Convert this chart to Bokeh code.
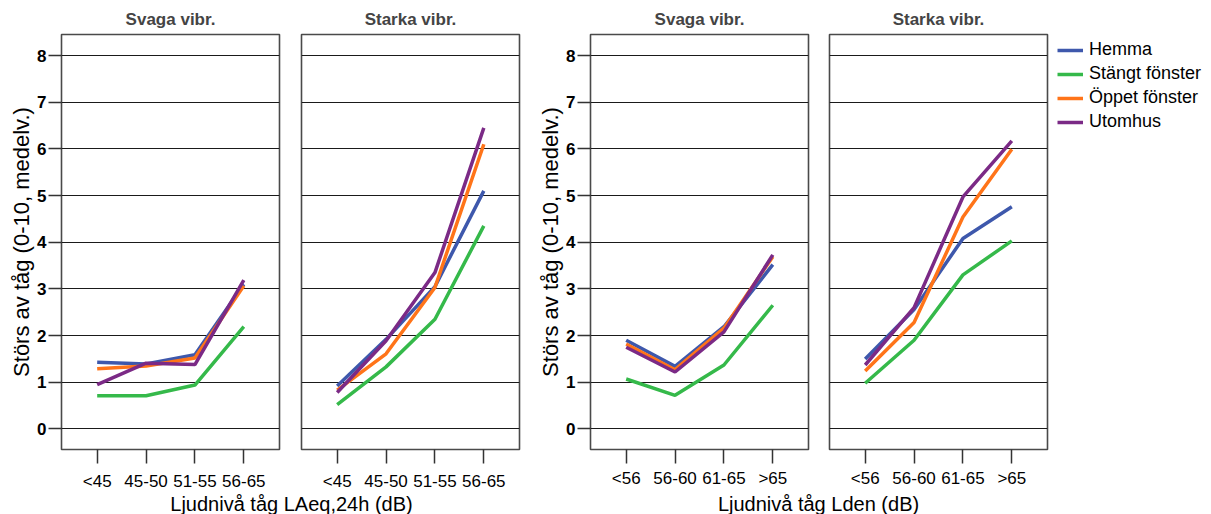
from bokeh.plotting import figure
from bokeh.layouts import row, column
from bokeh.models import Range1d, FactorRange, FixedTicker, Label, Legend, LegendItem
from bokeh.embed import file_html
from bokeh.resources import INLINE

# ---------------- data ----------------
laeq_levels = ["<45", "45-50", "51-55", "56-65"]
lden_levels = ["<56", "56-60", "61-65", ">65"]
series_names = ["Hemma", "Stängt fönster", "Öppet fönster", "Utomhus"]
series_colors = ["#3E58AC", "#35B94A", "#FF7419", "#7B2A86"]
panel_titles = ["Svaga vibr.", "Starka vibr."]
y_ticks = [0, 1, 2, 3, 4, 5, 6, 7, 8]
y_label = "Störs av tåg (0-10, medelv.)"
x_label_laeq = "Ljudnivå tåg LAeq,24h (dB)"
x_label_lden = "Ljudnivå tåg Lden (dB)"

# LAeq,24h - svaga vibrationer
laeq_svaga_hemma = [1.43, 1.39, 1.59, 3.10]
laeq_svaga_stangt = [0.71, 0.71, 0.94, 2.19]
laeq_svaga_oppet = [1.29, 1.35, 1.52, 3.07]
laeq_svaga_utomhus = [0.95, 1.41, 1.38, 3.19]
# LAeq,24h - starka vibrationer
laeq_starka_hemma = [0.92, 1.92, 3.05, 5.10]
laeq_starka_stangt = [0.52, 1.33, 2.35, 4.35]
laeq_starka_oppet = [0.83, 1.61, 3.03, 6.10]
laeq_starka_utomhus = [0.78, 1.89, 3.35, 6.45]
# Lden - svaga vibrationer
lden_svaga_hemma = [1.90, 1.34, 2.19, 3.52]
lden_svaga_stangt = [1.07, 0.72, 1.37, 2.65]
lden_svaga_oppet = [1.82, 1.27, 2.16, 3.69]
lden_svaga_utomhus = [1.75, 1.22, 2.08, 3.73]
# Lden - starka vibrationer
lden_starka_hemma = [1.50, 2.56, 4.08, 4.76]
lden_starka_stangt = [0.98, 1.90, 3.30, 4.03]
lden_starka_oppet = [1.24, 2.28, 4.54, 5.99]
lden_starka_utomhus = [1.37, 2.60, 4.97, 6.17]

FONT = "Liberation Sans"


def make_panel(levels, series, title, width, height, bl, br, bt, bb, show_y, x_standoff):
    p = figure(width=width, height=height, output_backend="svg", toolbar_location=None,
               x_range=FactorRange(*levels, range_padding=0.115),
               y_range=Range1d(-0.44, 8.45),
               min_border_left=bl, min_border_right=br, min_border_top=bt, min_border_bottom=bb)
    p.title.text = title
    p.title.align = "center"
    p.title.text_font = FONT
    p.title.text_font_size = "17px"
    p.title.text_font_style = "bold"
    p.title.standoff = 11
    p.outline_line_color = "#4a4a4a"
    p.outline_line_width = 1.6
    p.background_fill_color = "white"
    p.border_fill_color = "white"
    p.xgrid.visible = False
    p.ygrid.ticker = FixedTicker(ticks=y_ticks)
    p.ygrid.grid_line_color = "#1a1a1a"
    p.ygrid.grid_line_width = 1
    p.xaxis.axis_line_color = None
    p.xaxis.major_tick_out = 14
    p.xaxis.major_tick_in = 0
    p.xaxis.major_tick_line_color = "#333333"
    p.xaxis.major_tick_line_width = 1.5
    p.xaxis.major_label_text_font = FONT
    p.xaxis.major_label_text_font_size = "17px"
    p.xaxis.major_label_text_color = "black"
    p.xaxis.major_label_standoff = x_standoff
    if show_y:
        p.yaxis.ticker = FixedTicker(ticks=y_ticks)
        p.yaxis.axis_line_color = None
        p.yaxis.major_tick_out = 13
        p.yaxis.major_tick_in = 0
        p.yaxis.minor_tick_line_color = None
        p.yaxis.major_tick_line_color = "#333333"
        p.yaxis.major_tick_line_width = 1.3
        p.yaxis.major_label_text_font = FONT
        p.yaxis.major_label_text_font_size = "17px"
        p.yaxis.major_label_text_font_style = "bold"
        p.yaxis.major_label_text_color = "black"
        p.yaxis.major_label_standoff = 2
        p.yaxis.axis_label = y_label
        p.yaxis.axis_label_text_font = FONT
        p.yaxis.axis_label_text_font_size = "22px"
        p.yaxis.axis_label_text_font_style = "normal"
        p.yaxis.axis_label_text_color = "black"
        p.yaxis.axis_label_standoff = 0
    else:
        p.yaxis.visible = False
    renderers = []
    for vals, color in zip(series, series_colors):
        renderers.append(p.line(x=levels, y=vals, line_color=color, line_width=3.5))
    return p


H_TOP = 493
p1 = make_panel(laeq_levels,
                [laeq_svaga_hemma, laeq_svaga_stangt, laeq_svaga_oppet, laeq_svaga_utomhus],
                panel_titles[0], 290, H_TOP, 61, 11, 33, 40, True, 8)
p2 = make_panel(laeq_levels,
                [laeq_starka_hemma, laeq_starka_stangt, laeq_starka_oppet, laeq_starka_utomhus],
                panel_titles[1], 240, H_TOP, 11, 11, 33, 40, False, 8)
p3 = make_panel(lden_levels,
                [lden_svaga_hemma, lden_svaga_stangt, lden_svaga_oppet, lden_svaga_utomhus],
                panel_titles[0], 288, H_TOP, 60, 10, 31, 43, True, 5)
lden_starka = [lden_starka_hemma, lden_starka_stangt, lden_starka_oppet, lden_starka_utomhus]
p4 = make_panel(lden_levels, lden_starka,
                panel_titles[1], 234, H_TOP, 11, 5, 31, 43, False, 5)

# legend panel: key lines reuse the series but lie outside this panel's visible range
pl = figure(width=159, height=H_TOP, output_backend="svg", toolbar_location=None,
            x_range=FactorRange(*lden_levels), y_range=Range1d(100, 101),
            min_border_left=0, min_border_right=0, min_border_top=34, min_border_bottom=0)
pl.axis.visible = False
pl.grid.visible = False
pl.outline_line_color = None
key_renderers = [pl.line(x=lden_levels, y=vals, line_color=c, line_width=3.5)
                 for vals, c in zip(lden_starka, series_colors)]
legend = Legend(items=[LegendItem(label=n, renderers=[r]) for n, r in zip(series_names, key_renderers)],
                location="top_left", border_line_color=None, background_fill_alpha=0,
                label_text_font=FONT, label_text_font_size="18px", label_text_color="black",
                glyph_width=26, glyph_height=20, label_height=20, spacing=3,
                padding=0, margin=5, label_standoff=6)
pl.add_layout(legend, "center")


def make_label_fig(width, text, cx):
    f = figure(width=width, height=21, output_backend="svg", toolbar_location=None,
               x_range=Range1d(0, 1), y_range=Range1d(0, 1),
               min_border=0)
    f.axis.visible = False
    f.grid.visible = False
    f.outline_line_color = None
    f.border_fill_color = "white"
    f.add_layout(Label(x=cx, y=11, x_units="screen", y_units="screen", text=text,
                       text_font=FONT, text_font_size="20px", text_align="center",
                       text_baseline="middle", text_color="black"))
    return f


lab1 = make_label_fig(530, x_label_laeq, 291)
lab2 = make_label_fig(681, x_label_lden, 288)

layout = column(row(p1, p2, p3, p4, pl, spacing=0), row(lab1, lab2, spacing=0), spacing=0)

open("out.html", "w").write(file_html(layout, INLINE))
